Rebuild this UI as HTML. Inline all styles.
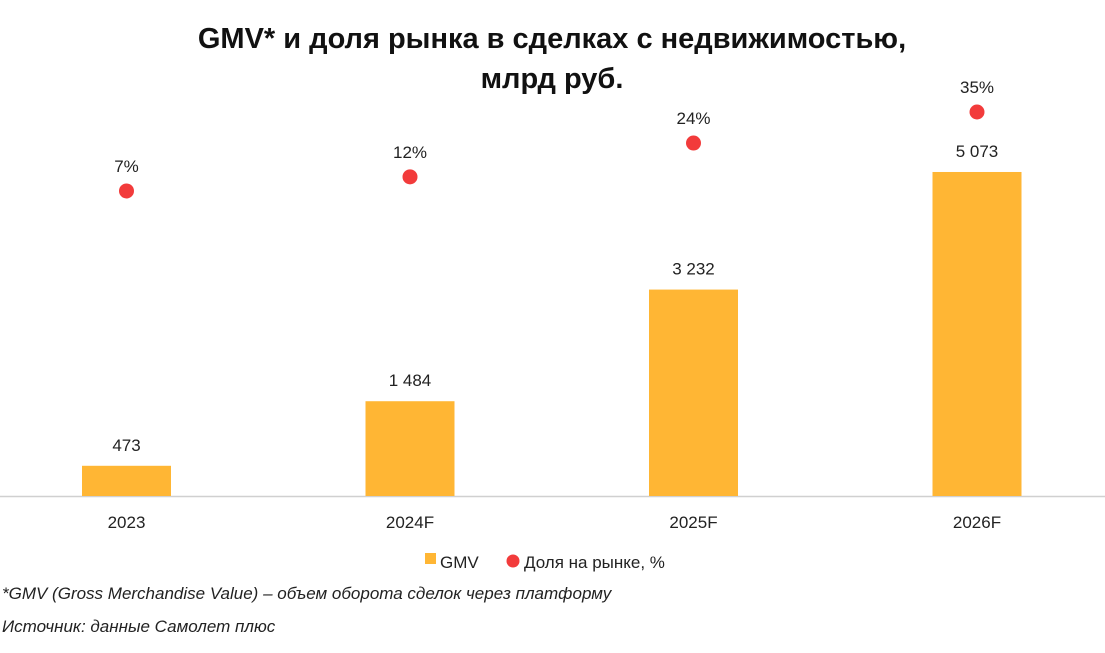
<!DOCTYPE html>
<html><head><meta charset="utf-8"><style>
body{margin:0;width:1105px;height:648px;background:#fff;overflow:hidden;font-family:"Liberation Sans",sans-serif}
</style></head><body>
<svg width="1105" height="648" viewBox="0 0 1105 648">
<text x="552" y="48" text-anchor="middle" font-size="29" font-weight="bold" fill="#111">GMV* и доля рынка в сделках с недвижимостью,</text>
<text x="552" y="88" text-anchor="middle" font-size="29" font-weight="bold" fill="#111">млрд руб.</text>
<line x1="0" y1="496.5" x2="1105" y2="496.5" stroke="#d0d0d0" stroke-width="1.5"/>
<g id="marks"></g>
<g>
<rect x="425" y="553" width="11" height="11" fill="#FFB634"/>
<text x="440" y="568" font-size="17" fill="#222">GMV</text>
<circle cx="513" cy="561" r="6.5" fill="#F23B3B"/>
<text x="524" y="568" font-size="17" fill="#222">Доля на рынке, %</text>
</g>
<text x="2" y="599" font-size="17" font-style="italic" fill="#222">*GMV (Gross Merchandise Value) – объем оборота сделок через платформу</text>
<text x="2" y="632" font-size="17" font-style="italic" fill="#222">Источник: данные Самолет плюс</text>
</svg>
<script>
const categories=["2023","2024F","2025F","2026F"];
const gmv=[473,1484,3232,5073];
const gmvLabels=["473","1 484","3 232","5 073"];
const share=[7,12,24,35];
const ns="http://www.w3.org/2000/svg";
const g=document.getElementById("marks");
const xC=i=>126.5+i*283.5;
const yB=v=>496-v*0.06387;
const yS=v=>210.7-v*2.82;
function mk(t,a){const e=document.createElementNS(ns,t);for(const k in a)e.setAttribute(k,a[k]);g.appendChild(e);return e;}
categories.forEach((c,i)=>{
 const b=mk("rect",{x:xC(i)-44.5,y:yB(gmv[i]),width:89,height:496-yB(gmv[i]),fill:"#FFB634"});
 
 
 const l=mk("text",{x:xC(i),y:yB(gmv[i])-15,"text-anchor":"middle","font-size":"17",fill:"#222"});l.textContent=gmvLabels[i];
 
 
 const d=mk("circle",{cx:xC(i),cy:yS(share[i]),r:7.5,fill:"#F23B3B"});
 
 
 const p=mk("text",{x:xC(i),y:yS(share[i])-19,"text-anchor":"middle","font-size":"17",fill:"#222"});p.textContent=share[i]+"%";
 
 
 const x=mk("text",{x:xC(i),y:528,"text-anchor":"middle","font-size":"17",fill:"#222"});x.textContent=c;
 
 
});
</script>
</body></html>
